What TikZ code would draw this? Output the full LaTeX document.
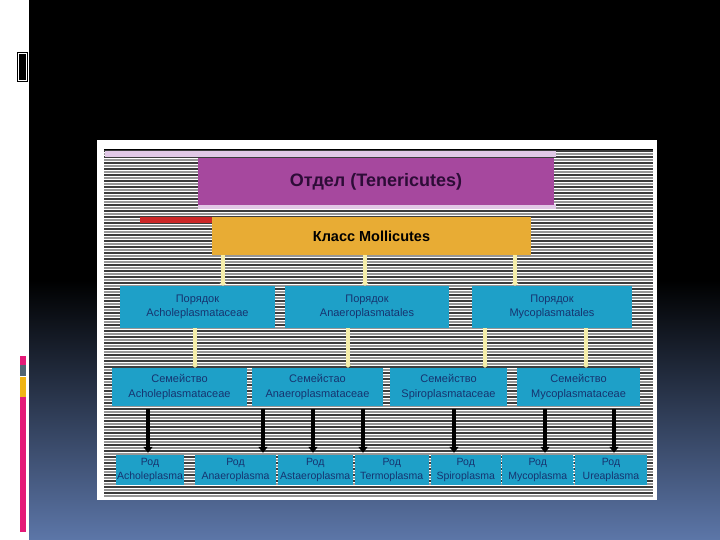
\documentclass[tikz,border=0pt]{standalone}
\usepackage{fontspec}
\setmainfont{Liberation Sans}
\usetikzlibrary{arrows.meta,calc}
\definecolor{bgblue}{RGB}{92,118,168}
\definecolor{pinkbar}{RGB}{228,26,120}
\definecolor{slatebar}{RGB}{80,100,115}
\definecolor{goldbar}{RGB}{240,180,20}
\definecolor{purplebox}{RGB}{166,72,158}
\definecolor{lilac}{RGB}{225,200,230}
\definecolor{titletext}{RGB}{45,12,55}
\definecolor{goldbox}{RGB}{232,172,52}
\definecolor{redbar}{RGB}{205,40,40}
\definecolor{cyanbox}{RGB}{30,160,200}
\definecolor{navytext}{RGB}{22,52,112}
\definecolor{paleyellow}{RGB}{246,238,170}
\definecolor{stripedark}{RGB}{60,60,60}
\definecolor{stripegray}{RGB}{150,150,150}
\tikzset{
  cbox/.style={fill=cyanbox, draw=none, inner sep=0pt, align=center, text=navytext,
    font=\fontsize{11}{14.5}\selectfont},
  gbox/.style={cbox, minimum height=30pt, font=\fontsize{10.5}{14}\selectfont},
  yconn/.style={line width=4pt, draw=paleyellow, -{Triangle[length=3pt,width=7pt]}},
  bconn/.style={line width=4.5pt, draw=black, -{Triangle[length=6pt,width=9pt]}},
  sepline/.style={draw=white, line width=1.2pt, dash pattern=on 1.5pt off 1.5pt},
}
\begin{document}
\begin{tikzpicture}[x=1pt,y=-1pt]
\useasboundingbox (0,0) rectangle (720,540);
% background
\fill[black] (0,0) rectangle (720,540);
\shade[top color=black, bottom color=bgblue] (29,280) rectangle (720,540);
\fill[white] (0,0) rectangle (29,540);
% left decorations
\fill[black] (17,52) rectangle (28,82);
\draw[white, line width=0.6pt] (18.5,53.5) rectangle (26.5,80.5);
\fill[pinkbar] (20,356) rectangle (26,365);
\fill[slatebar] (20,365) rectangle (26,376);
\fill[goldbar] (20,377) rectangle (26,397);
\fill[pinkbar] (20,397) rectangle (26,532);
% panel
\fill[white] (97,140) rectangle (657,500);
\foreach \i in {0,...,115}{
  \pgfmathsetmacro\yy{151+3*\i}
  \ifodd\i
    \draw[stripegray, line width=1.3pt] (104,\yy) -- (653,\yy);
  \else
    \draw[stripedark, line width=1.3pt] (104,\yy) -- (653,\yy);
  \fi
}
\draw[black, line width=1pt] (104,150) -- (653,150);
\fill[lilac] (105,151) rectangle (556,157);
\fill[lilac] (198,204) rectangle (556,209);
% title and class
\node[fill=purplebox, minimum width=356pt, minimum height=47pt, inner sep=0pt,
  text=titletext, font=\fontsize{18}{20}\selectfont\bfseries] (title) at (376,181.5) {Отдел (Tenericutes)};
\fill[redbar] (140,217) rectangle (214,223);
\node[fill=goldbox, minimum width=319pt, minimum height=38pt, inner sep=0pt,
  text=black, font=\fontsize{14.5}{16}\selectfont\bfseries] (cls) at (371.5,236) {Класс Mollicutes};
% orders
\node[cbox, minimum width=155pt, minimum height=42pt] (o1) at (197.5,307) {Порядок\\Acholeplasmataceae};
\node[cbox, minimum width=164pt, minimum height=42pt] (o2) at (367,307) {Порядок\\Anaeroplasmatales};
\node[cbox, minimum width=160pt, minimum height=42pt] (o3) at (552,307) {Порядок\\Mycoplasmatales};
% families
\node[cbox, minimum width=135pt, minimum height=38pt] (f1) at (179.5,387) {Семейство\\Acholeplasmataceae};
\node[cbox, minimum width=131pt, minimum height=38pt] (f2) at (317.5,387) {Семейстао\\Anaeroplasmataceae};
\node[cbox, minimum width=117pt, minimum height=38pt] (f3) at (448.5,387) {Семейство\\Spiroplasmataceae};
\node[cbox, minimum width=123pt, minimum height=38pt] (f4) at (578.5,387) {Семейство\\Mycoplasmataceae};
% genera
\node[gbox, minimum width=68pt] (g1) at (150,470) {Род\\Acholeplasma};
\node[gbox, minimum width=81pt] (g2) at (235.5,470) {Род\\Anaeroplasma};
\node[gbox, minimum width=75.5pt] (g3) at (315.25,470) {Род\\Astaeroplasma};
\node[gbox, minimum width=74.5pt] (g4) at (391.75,470) {Род\\Termoplasma};
\node[gbox, minimum width=69.5pt] (g5) at (465.75,470) {Род\\Spiroplasma};
\node[gbox, minimum width=71.5pt] (g6) at (537.75,470) {Род\\Mycoplasma};
\node[gbox, minimum width=72pt] (g7) at (611,470) {Род\\Ureaplasma};
\draw[sepline] (g2.north east) -- (g2.south east);
\draw[sepline] (g3.north east) -- (g3.south east);
\draw[sepline] (g4.north east) -- (g4.south east);
\draw[sepline] (g6.north east) -- (g6.south east);
% connector x positions
\coordinate (c1) at (223,0);
\coordinate (c2) at (365,0);
\coordinate (c3) at (515,0);
\coordinate (d1) at (195,0);
\coordinate (d2) at (348,0);
\coordinate (d3) at (485,0);
\coordinate (d4) at (586,0);
\coordinate (e1) at (148,0);
\coordinate (e2) at (263,0);
\coordinate (e3) at (313,0);
\coordinate (e4) at (363,0);
\coordinate (e5) at (454,0);
\coordinate (e6) at (545,0);
\coordinate (e7) at (614,0);
% class -> orders
\draw[yconn] (cls.south -| c1) -- (o1.north -| c1);
\draw[yconn] (cls.south -| c2) -- (o2.north -| c2);
\draw[yconn] (cls.south -| c3) -- (o3.north -| c3);
% orders -> families
\draw[yconn] (o1.south -| d1) -- (f1.north -| d1);
\draw[yconn] (o2.south -| d2) -- (f2.north -| d2);
\draw[yconn] (o3.south -| d3) -- (f3.north -| d3);
\draw[yconn] (o3.south -| d4) -- (f4.north -| d4);
% families -> genera
\draw[bconn] ($(f1.south -| e1)+(0,3)$) -- ($(g1.north -| e1)+(0,-2)$);
\draw[bconn] ($(f2.south -| e2)+(0,3)$) -- ($(g2.north -| e2)+(0,-2)$);
\draw[bconn] ($(f2.south -| e3)+(0,3)$) -- ($(g3.north -| e3)+(0,-2)$);
\draw[bconn] ($(f2.south -| e4)+(0,3)$) -- ($(g4.north -| e4)+(0,-2)$);
\draw[bconn] ($(f3.south -| e5)+(0,3)$) -- ($(g5.north -| e5)+(0,-2)$);
\draw[bconn] ($(f4.south -| e6)+(0,3)$) -- ($(g6.north -| e6)+(0,-2)$);
\draw[bconn] ($(f4.south -| e7)+(0,3)$) -- ($(g7.north -| e7)+(0,-2)$);
\end{tikzpicture}
\end{document}
